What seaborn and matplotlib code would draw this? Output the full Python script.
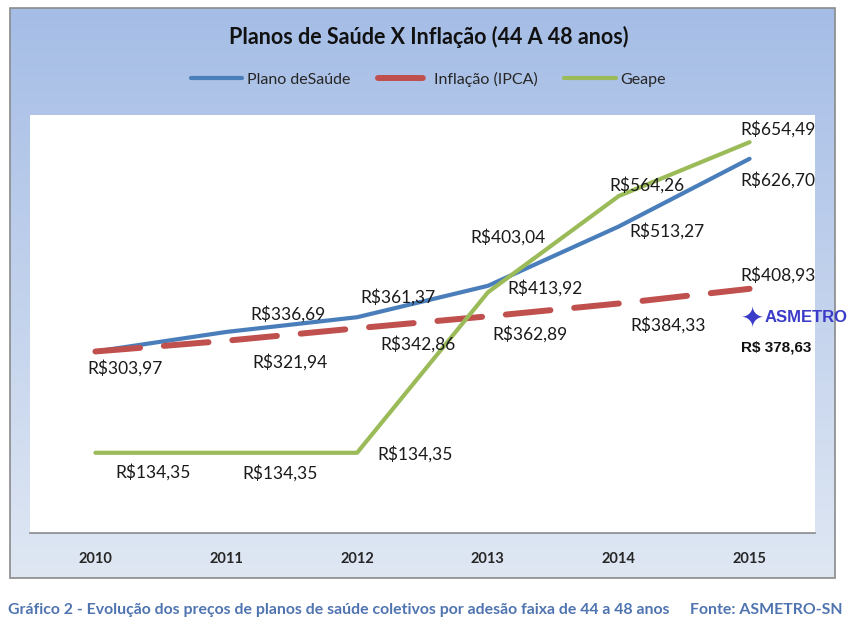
"""Planos de saude x inflacao, faixa 44 a 48 anos."""

import matplotlib

matplotlib.use("Agg")
import matplotlib.pyplot as plt  # noqa: E402
import numpy as np
import pandas as pd
import seaborn as sns
from matplotlib.colors import to_hex
from matplotlib.patches import Rectangle

years = [2010, 2011, 2012, 2013, 2014, 2015]
plano = [303.97, 336.69, 361.37, 413.92, 513.27, 626.70]
inflacao = [303.97, 321.94, 342.86, 362.89, 384.33, 408.93]
geape = [134.35, 134.35, 134.35, 403.04, 564.26, 654.49]
series_names = ["Plano deSaúde", "Inflação (IPCA)", "Geape"]
asmetro_value = 378.63

# label offsets in pixels (dx, dy) from each point
plano_off = [(30, -17), (62, 18), (41, 20), (57, -2), (48, -5), (28, -21)]
infl_off = [None, (64, -21), (61, -16), (42, -18), (49, -22), (28, 14)]
geape_off = [(58, -19), (54, -20), (58, -1), (20, 55), (28, 11), (28, 13)]

colors = {"Plano deSaúde": "#4a7ebb", "Inflação (IPCA)": "#c0504d", "Geape": "#9bbb59"}


def brl(v):
    return "R$" + f"{v:.2f}".replace(".", ",")


df = pd.DataFrame(
    {
        "ano": years * 3,
        "valor": plano + inflacao + geape,
        "serie": [series_names[0]] * 6 + [series_names[1]] * 6 + [series_names[2]] * 6,
    }
)

sns.set_theme(style="white")
plt.rcParams["font.family"] = ["Lato", "DejaVu Sans"]

W, H = 857, 627
fig = plt.figure(figsize=(W / 100, H / 100), dpi=100)
fig.patch.set_facecolor("white")

# gradient chart frame
bg = fig.add_axes([10 / W, (H - 578) / H, 825 / W, 570 / H])
top = np.array([0.647, 0.741, 0.902])
bot = np.array([0.875, 0.906, 0.953])
t = np.linspace(0, 1, 256)[:, None]
grad = top * (1 - t[..., None]) + bot * t[..., None]
grad = np.repeat(grad, 2, axis=1)
bg.imshow(grad, aspect="auto", extent=[0, 1, 0, 1], origin="upper")
bg.set_xlim(0, 1)
bg.set_ylim(0, 1)
bg.axis("off")
bg.add_patch(Rectangle((0, 0), 1, 1, transform=bg.transAxes, fill=False,
                       edgecolor="#8a8a8a", linewidth=1.2, clip_on=False))

ax = fig.add_axes([30 / W, (H - 533) / H, 785 / W, 418 / H])
ax.set_facecolor("white")
sns.lineplot(
    data=df, x="ano", y="valor", hue="serie", style="serie",
    palette=colors,
    dashes={"Plano deSaúde": "", "Inflação (IPCA)": (7.5, 4), "Geape": ""},
    linewidth=3, ax=ax, legend=True,
)

red = colors["Inflação (IPCA)"]


def style_red(line):
    line.set_linewidth(4.3)
    line.set_linestyle((0, (7.5, 4)))
    line.set_dash_capstyle("round")


for line in ax.lines:
    line.set_solid_capstyle("round")
    if to_hex(line.get_color()) == red:
        style_red(line)

ax.set_xlim(2009.5, 2015.5)
ax.set_ylim(0, 700)
ax.set_xticks(years)
ax.set_xticklabels([str(y) for y in years], fontweight="bold", fontsize=10.5)
ax.tick_params(axis="x", length=0, pad=14)
ax.set_yticks([])
ax.set_xlabel("")
ax.set_ylabel("")
for s in ["top", "left", "right"]:
    ax.spines[s].set_visible(False)
ax.spines["bottom"].set_color("#8a8a8a")
ax.spines["bottom"].set_linewidth(1.2)

for vals, offs in [(plano, plano_off), (inflacao, infl_off), (geape, geape_off)]:
    for x, v, o in zip(years, vals, offs):
        if o is None:
            continue
        ax.annotate(brl(v), (x, v), xytext=o, textcoords="offset pixels",
                    ha="center", va="center", fontsize=12.5, color="#1a1a1a",
                    annotation_clip=False)

handles, labels = ax.get_legend_handles_labels()
ax.get_legend().remove()
for h in handles:
    if to_hex(h.get_color()) == red:
        style_red(h)
fig.legend(handles, labels, loc="center", bbox_to_anchor=(0.5, 1 - 79 / H), ncol=3,
           frameon=False, fontsize=11.5, handlelength=3.2, columnspacing=1.7,
           handletextpad=0.3)

fig.text(0.5, 1 - 37 / H, "Planos de Saúde X Inflação (44 A 48 anos)", ha="center",
         va="center", fontsize=15.5, fontweight="bold", color="#111111")

# ASMETRO badge
fig.text(752 / W, 1 - 318 / H, "\u2726", ha="center", va="center", fontsize=20,
         color="#3b3bc9", family=["DejaVu Sans"])
fig.text(765 / W, 1 - 318 / H, "ASMETRO", ha="left", va="center", fontsize=12,
         fontweight="bold", color="#3b3bc9", family=["Liberation Sans"])
fig.text(776 / W, 1 - 348 / H, "R$ " + f"{asmetro_value:.2f}".replace(".", ","),
         ha="center", va="center", fontsize=11, fontweight="bold", color="#111111",
         family=["Liberation Sans"])

fig.text(8 / W, 1 - 610 / H,
         "Gráfico 2 - Evolução dos preços de planos de saúde coletivos por adesão faixa de 44 a 48 anos",
         ha="left", va="center", fontsize=11.4, fontweight="bold", color="#4f74b0")
fig.text(843 / W, 1 - 610 / H, "Fonte: ASMETRO-SN", ha="right", va="center",
         fontsize=11.4, fontweight="bold", color="#4f74b0")

fig.savefig("out.png", dpi=100)
